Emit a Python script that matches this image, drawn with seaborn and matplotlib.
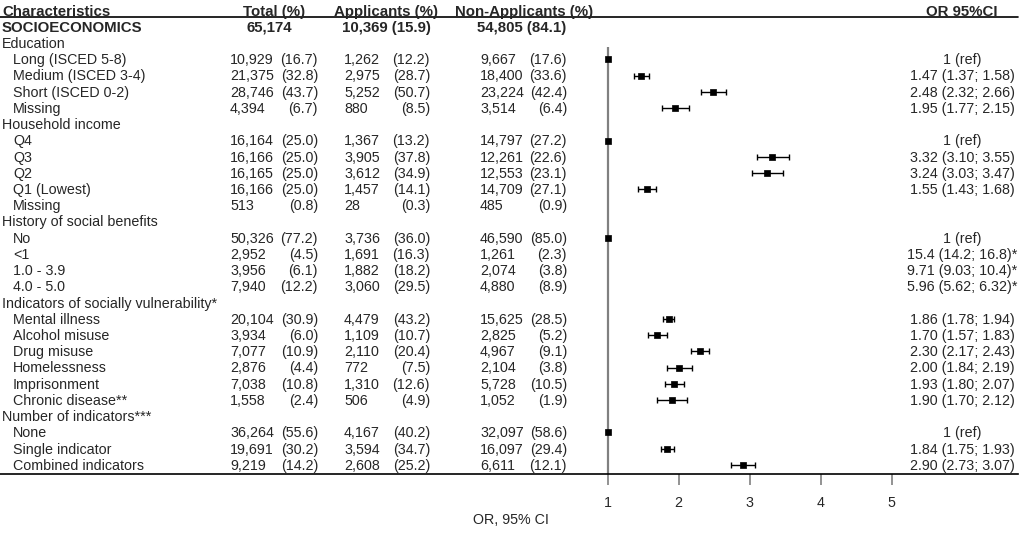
import numpy as np
import pandas as pd
import matplotlib.pyplot as plt
import seaborn as sns

########## Table data ##########

labels = ["SOCIOECONOMICS",
          "Education", "Long (ISCED 5-8)", "Medium (ISCED 3-4)", "Short (ISCED 0-2)", "Missing",
          "Household income", "Q4", "Q3", "Q2", "Q1 (Lowest)", "Missing",
          "History of social benefits", "No", "<1", "1.0 - 3.9", "4.0 - 5.0",
          "Indicators of socially vulnerability*", "Mental illness", "Alcohol misuse", "Drug misuse",
          "Homelessness", "Imprisonment", "Chronic disease**",
          "Number of indicators***", "None", "Single indicator", "Combined indicators"]
kinds = ["top",
         "group", "item", "item", "item", "item",
         "group", "item", "item", "item", "item", "item",
         "group", "item", "item", "item", "item",
         "group", "item", "item", "item", "item", "item", "item",
         "group", "item", "item", "item"]

total_n = [None, None, "10,929", "21,375", "28,746", "4,394",
           None, "16,164", "16,166", "16,165", "16,166", "513",
           None, "50,326", "2,952", "3,956", "7,940",
           None, "20,104", "3,934", "7,077", "2,876", "7,038", "1,558",
           None, "36,264", "19,691", "9,219"]
total_pct = [None, None, "16.7", "32.8", "43.7", "6.7",
             None, "25.0", "25.0", "25.0", "25.0", "0.8",
             None, "77.2", "4.5", "6.1", "12.2",
             None, "30.9", "6.0", "10.9", "4.4", "10.8", "2.4",
             None, "55.6", "30.2", "14.2"]
app_n = [None, None, "1,262", "2,975", "5,252", "880",
         None, "1,367", "3,905", "3,612", "1,457", "28",
         None, "3,736", "1,691", "1,882", "3,060",
         None, "4,479", "1,109", "2,110", "772", "1,310", "506",
         None, "4,167", "3,594", "2,608"]
app_pct = [None, None, "12.2", "28.7", "50.7", "8.5",
           None, "13.2", "37.8", "34.9", "14.1", "0.3",
           None, "36.0", "16.3", "18.2", "29.5",
           None, "43.2", "10.7", "20.4", "7.5", "12.6", "4.9",
           None, "40.2", "34.7", "25.2"]
non_n = [None, None, "9,667", "18,400", "23,224", "3,514",
         None, "14,797", "12,261", "12,553", "14,709", "485",
         None, "46,590", "1,261", "2,074", "4,880",
         None, "15,625", "2,825", "4,967", "2,104", "5,728", "1,052",
         None, "32,097", "16,097", "6,611"]
non_pct = [None, None, "17.6", "33.6", "42.4", "6.4",
           None, "27.2", "22.6", "23.1", "27.1", "0.9",
           None, "85.0", "2.3", "3.8", "8.9",
           None, "28.5", "5.2", "9.1", "3.8", "10.5", "1.9",
           None, "58.6", "29.4", "12.1"]

or_est = [np.nan, np.nan, 1, 1.47, 2.48, 1.95,
          np.nan, 1, 3.32, 3.24, 1.55, np.nan,
          np.nan, 1, 15.4, 9.71, 5.96,
          np.nan, 1.86, 1.70, 2.30, 2.00, 1.93, 1.90,
          np.nan, 1, 1.84, 2.90]
or_lo = [np.nan, np.nan, 1, 1.37, 2.32, 1.77,
         np.nan, 1, 3.10, 3.03, 1.43, np.nan,
         np.nan, 1, 14.2, 9.03, 5.62,
         np.nan, 1.78, 1.57, 2.17, 1.84, 1.80, 1.70,
         np.nan, 1, 1.75, 2.73]
or_hi = [np.nan, np.nan, 1, 1.58, 2.66, 2.15,
         np.nan, 1, 3.55, 3.47, 1.68, np.nan,
         np.nan, 1, 16.8, 10.4, 6.32,
         np.nan, 1.94, 1.83, 2.43, 2.19, 2.07, 2.12,
         np.nan, 1, 1.93, 3.07]
or_text = ["", "", "1 (ref)", "1.47 (1.37; 1.58)", "2.48 (2.32; 2.66)", "1.95 (1.77; 2.15)",
           "", "1 (ref)", "3.32 (3.10; 3.55)", "3.24 (3.03; 3.47)", "1.55 (1.43; 1.68)", "",
           "", "1 (ref)", "15.4 (14.2; 16.8)*", "9.71 (9.03; 10.4)*", "5.96 (5.62; 6.32)*",
           "", "1.86 (1.78; 1.94)", "1.70 (1.57; 1.83)", "2.30 (2.17; 2.43)",
           "2.00 (1.84; 2.19)", "1.93 (1.80; 2.07)", "1.90 (1.70; 2.12)",
           "", "1 (ref)", "1.84 (1.75; 1.93)", "2.90 (2.73; 3.07)"]

df = pd.DataFrame({"label": labels, "kind": kinds, "or_est": or_est,
                   "or_lo": or_lo, "or_hi": or_hi, "or_text": or_text})
df["row"] = np.arange(len(df)) + 1

# rows drawn on the forest plot (starred estimates are off scale)
plot_df = df[df["or_est"].notna() & ~df["or_text"].str.endswith("*")]
ci_df = plot_df[plot_df["or_lo"] != plot_df["or_hi"]]

########## Figure ##########

sns.set_style("white")
plt.rcParams["font.family"] = ["Liberation Sans", "DejaVu Sans"]
fs = 10.3
fs_bold = 10.8

W, H = 1021, 534
fig = plt.figure(figsize=(W / 100, H / 100), dpi=100)
ax = fig.add_axes([0, 60 / H, 1, 474 / H])

# pixel -> OR scale (1 at 607.7 px, 71 px per unit)
def xdat(px):
    return 1 + (px - 607.7) / 71.0

ax.set_xlim(xdat(0), xdat(W))
ax.set_ylim(28.56, -0.666)

ax.vlines(1, 2.25, 28.56, color="#808080", lw=1.6, zorder=1)
ax.errorbar(ci_df["or_est"], ci_df["row"],
            xerr=[ci_df["or_est"] - ci_df["or_lo"], ci_df["or_hi"] - ci_df["or_est"]],
            fmt="none", ecolor="black", elinewidth=1, capsize=2.5, capthick=1, zorder=2)
sns.scatterplot(data=plot_df, x="or_est", y="row", marker="s", s=15, color="black",
                edgecolor="black", linewidth=0.5, ax=ax, zorder=3, legend=False)

for s in ["top", "left", "right"]:
    ax.spines[s].set_visible(False)
ax.spines["bottom"].set_color("black")
ax.spines["bottom"].set_linewidth(1.2)
ax.spines["bottom"].set_bounds(xdat(0), xdat(1018))
ax.set_yticks([])
ax.set_xticks([1, 2, 3, 4, 5])
ax.tick_params(axis="x", direction="out", length=8, width=1.2, color="#808080",
               labelsize=fs, pad=8, bottom=True)
ax.set_xlabel("OR, 95% CI", fontsize=fs, labelpad=2)
ax.set_ylabel("")

trans = ax.get_yaxis_transform()

def put(px, row, s, ha="left", bold=False):
    ax.text(px / W, row + 0.05, s, transform=trans, ha=ha, va="center",
            fontsize=fs_bold if bold else fs,
            fontweight="bold" if bold else "normal", clip_on=False)

# header
put(2, 0, "Characteristics", bold=True)
put(243, 0, "Total (%)", bold=True)
put(334, 0, "Applicants (%)", bold=True)
put(455, 0, "Non-Applicants (%)", bold=True)
put(962, 0, "OR 95%CI", ha="center", bold=True)
ax.plot([0, 1018 / W], [0.38, 0.38], transform=trans, color="black", lw=1.2, clip_on=False)

put(2, 1, "SOCIOECONOMICS", bold=True)
put(246, 1, "65,174", bold=True)
put(342, 1, "10,369 (15.9)", bold=True)
put(477, 1, "54,805 (84.1)", bold=True)

for i in range(1, len(labels)):
    r = i + 1
    if kinds[i] == "group":
        put(2, r, labels[i])
        continue
    put(13, r, labels[i])
    put(230, r, total_n[i])
    put(318, r, f"({total_pct[i]})", ha="right")
    put(344, r, app_n[i])
    put(430, r, f"({app_pct[i]})", ha="right")
    put(480, r, non_n[i])
    put(567, r, f"({non_pct[i]})", ha="right")
    if or_text[i]:
        put(962, r, or_text[i], ha="center")

fig.savefig("out.png", dpi=100)
